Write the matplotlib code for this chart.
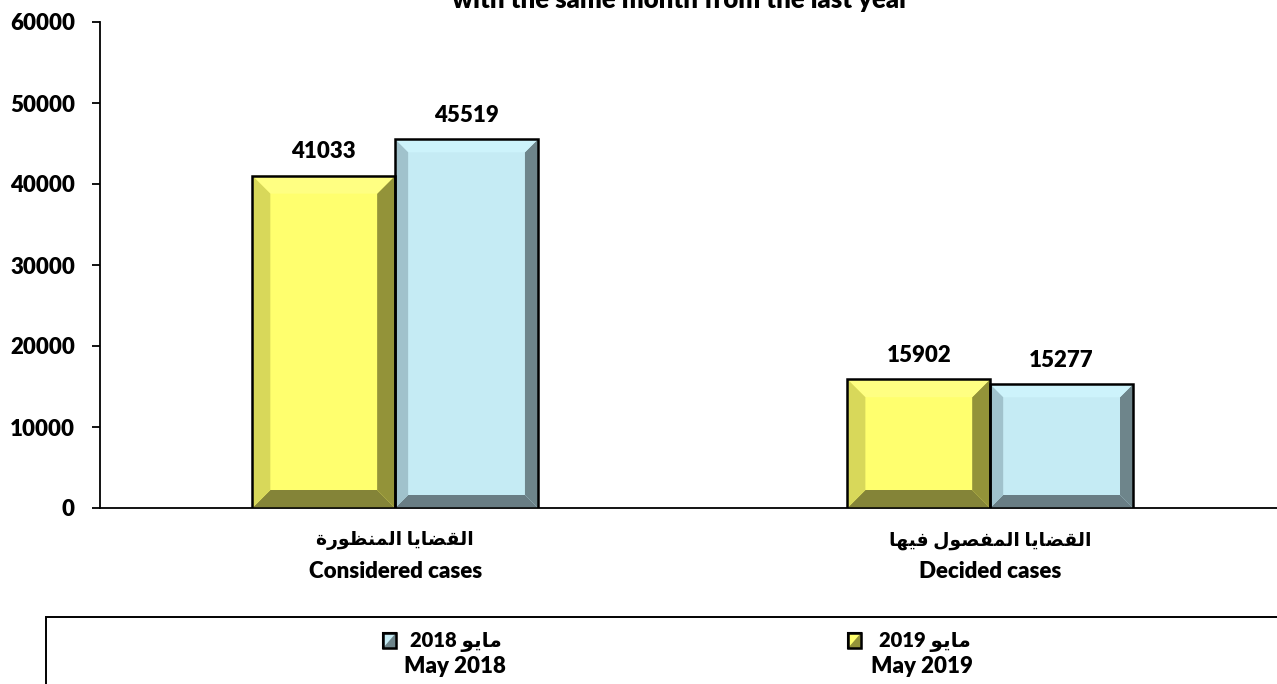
import matplotlib
matplotlib.use("Agg")
from matplotlib import pyplot as plt
from matplotlib.patches import Polygon, Rectangle
from matplotlib.transforms import blended_transform_factory

# chart data
categories_ar = ["القضايا المنظورة", "القضايا المفصول فيها"]
categories_en = ["Considered cases", "Decided cases"]
month_ar = "مايو"
month_en = "May"
years = ["2019", "2018"]
values_2019 = [41033, 15902]
values_2018 = [45519, 15277]
y_ticks = [0, 10000, 20000, 30000, 40000, 50000, 60000]
title = "with the same month from the last year"

# Arabic presentation forms (isolated, final, initial, medial) for the letters used
FORMS = {
    "ا": ("\uFE8D", "\uFE8E", None, None),
    "ل": ("\uFEDD", "\uFEDE", "\uFEDF", "\uFEE0"),
    "ق": ("\uFED5", "\uFED6", "\uFED7", "\uFED8"),
    "ض": ("\uFEBD", "\uFEBE", "\uFEBF", "\uFEC0"),
    "ص": ("\uFEB9", "\uFEBA", "\uFEBB", "\uFEBC"),
    "ي": ("\uFEF1", "\uFEF2", "\uFEF3", "\uFEF4"),
    "م": ("\uFEE1", "\uFEE2", "\uFEE3", "\uFEE4"),
    "ن": ("\uFEE5", "\uFEE6", "\uFEE7", "\uFEE8"),
    "ظ": ("\uFEC5", "\uFEC6", "\uFEC7", "\uFEC8"),
    "و": ("\uFEED", "\uFEEE", None, None),
    "ر": ("\uFEAD", "\uFEAE", None, None),
    "ة": ("\uFE93", "\uFE94", None, None),
    "ف": ("\uFED1", "\uFED2", "\uFED3", "\uFED4"),
    "ه": ("\uFEE9", "\uFEEA", "\uFEEB", "\uFEEC"),
}


def shape(text):
    # join letters and put them in visual (left to right) order
    res = []
    for i, c in enumerate(text):
        if c not in FORMS:
            res.append(c)
            continue
        prev = text[i - 1] if i > 0 else None
        nxt = text[i + 1] if i + 1 < len(text) else None
        iso, fin, ini, med = FORMS[c]
        joins_prev = prev in FORMS and FORMS[prev][2] is not None
        joins_next = nxt in FORMS and ini is not None
        if joins_prev and joins_next:
            res.append(med)
        elif joins_prev:
            res.append(fin)
        elif joins_next:
            res.append(ini)
        else:
            res.append(iso)
    return "".join(reversed(res))


W, H = 1277, 684
WT = "heavy"
plt.rcParams['font.family'] = ['Lato', 'DejaVu Sans']
plt.rcParams['font.weight'] = WT

fig = plt.figure(figsize=(W / 100, H / 100), dpi=100)


def px(x, y):
    return x / W, 1 - y / H


# axes: left 100px, right edge of picture, y from 508px (0) to 22px (60000)
ax = fig.add_axes([100 / W, (H - 508) / H, (W - 100) / W, (508 - 22) / H])
ax.set_xlim(-0.496, 1.482)
ax.set_ylim(0, 60000)

YELLOW = dict(face="#FFFF6E", top="#FFFF82", left="#D8D85A", right="#939339", bottom="#848438")
BLUE = dict(face="#C5EBF4", top="#CDF3FB", left="#A0C2CC", right="#6E858B", bottom="#697D84")

x = range(len(categories_en))
bw = 0.24
bars19 = ax.bar([i - bw / 2 for i in x], values_2019, bw, color=YELLOW["face"], zorder=2)
bars18 = ax.bar([i + bw / 2 for i in x], values_2018, bw, color=BLUE["face"], zorder=2)


def bevel(rect, size, c):
    x0, y0 = rect.get_xy()
    w, h = rect.get_width(), rect.get_height()
    a, b = ax.transData.transform((x0, y0))
    cc, d = ax.transData.transform((x0 + w, y0 + h))
    ob = [(a, b), (cc, b), (cc, d), (a, d)]
    ib = [(a + size, b + size), (cc - size, b + size), (cc - size, d - size), (a + size, d - size)]
    inv = ax.transData.inverted().transform
    sides = [("bottom", 0, 1), ("right", 1, 2), ("top", 2, 3), ("left", 3, 0)]
    for name, i, j in sides:
        pts = inv([ob[i], ob[j], ib[j], ib[i]])
        ax.add_patch(Polygon(pts, closed=True, facecolor=c[name], edgecolor="none", zorder=3))
    ax.add_patch(Rectangle((x0, y0), w, h, fill=False, edgecolor="black", lw=1.8, zorder=4))


for r in bars19:
    bevel(r, 18, YELLOW)
for r in bars18:
    bevel(r, 13, BLUE)

for bars in (bars19, bars18):
    for r in bars:
        ax.annotate(f"{int(r.get_height())}", (r.get_x() + r.get_width() / 2, r.get_height()),
                    xytext=(0, 12.5), textcoords="offset points", ha="center", va="baseline",
                    fontsize=16, fontweight=WT)

# axes styling
for s in ("top", "right"):
    ax.spines[s].set_visible(False)
ax.spines["left"].set_linewidth(1.3)
ax.spines["bottom"].set_linewidth(1.3)
ax.set_yticks(y_ticks)
ax.set_yticklabels([str(v) for v in y_ticks])
ax.tick_params(axis="y", length=6, width=1.3, pad=12, labelsize=16)
ax.set_xticks([])

# category labels
tr = blended_transform_factory(ax.transData, ax.transAxes)
for i in x:
    ax.text(i, -33 / 486, shape(categories_ar[i]), transform=tr, ha="center", va="center",
            fontsize=13.5, fontweight="bold")
    ax.text(i, -70 / 486, categories_en[i], transform=tr, ha="center", va="baseline",
            fontsize=16, fontweight=WT)

# title (top part lies outside the picture, as in the source)
fig.text(*px(680, 8), title, ha="center", va="baseline", fontsize=18.5, fontweight=WT)

# legend box
fig.patches.append(Rectangle(px(46, 700), (W + 20 - 46) / W, (700 - 617) / H, transform=fig.transFigure,
                             fill=False, edgecolor="black", lw=1.4, clip_on=False))

legend_items = [("2018", BLUE, 383, 410, 455), ("2019", YELLOW, 848, 879, 922)]
for year, c, mx, tx, cx in legend_items:
    fig.patches.append(Rectangle(px(mx, 648), 13 / W, 15 / H, transform=fig.transFigure,
                                 facecolor=c["face"], edgecolor="black", lw=1.5))
    fig.patches.append(Polygon([px(mx + 13, 648), px(mx + 13, 633), px(mx, 648)], closed=True,
                               transform=fig.transFigure, facecolor=c["right"], edgecolor="none"))
    fig.patches.append(Rectangle(px(mx, 648), 13 / W, 15 / H, transform=fig.transFigure,
                                 fill=False, edgecolor="black", lw=1.8))
    fig.text(*px(tx, 647), f"{year} {shape(month_ar)}", ha="left", va="baseline",
             fontsize=14.5, fontweight=WT)
    fig.text(*px(cx, 673), f"{month_en} {year}", ha="center", va="baseline",
             fontsize=16, fontweight=WT)

fig.savefig("out.png", dpi=100)
